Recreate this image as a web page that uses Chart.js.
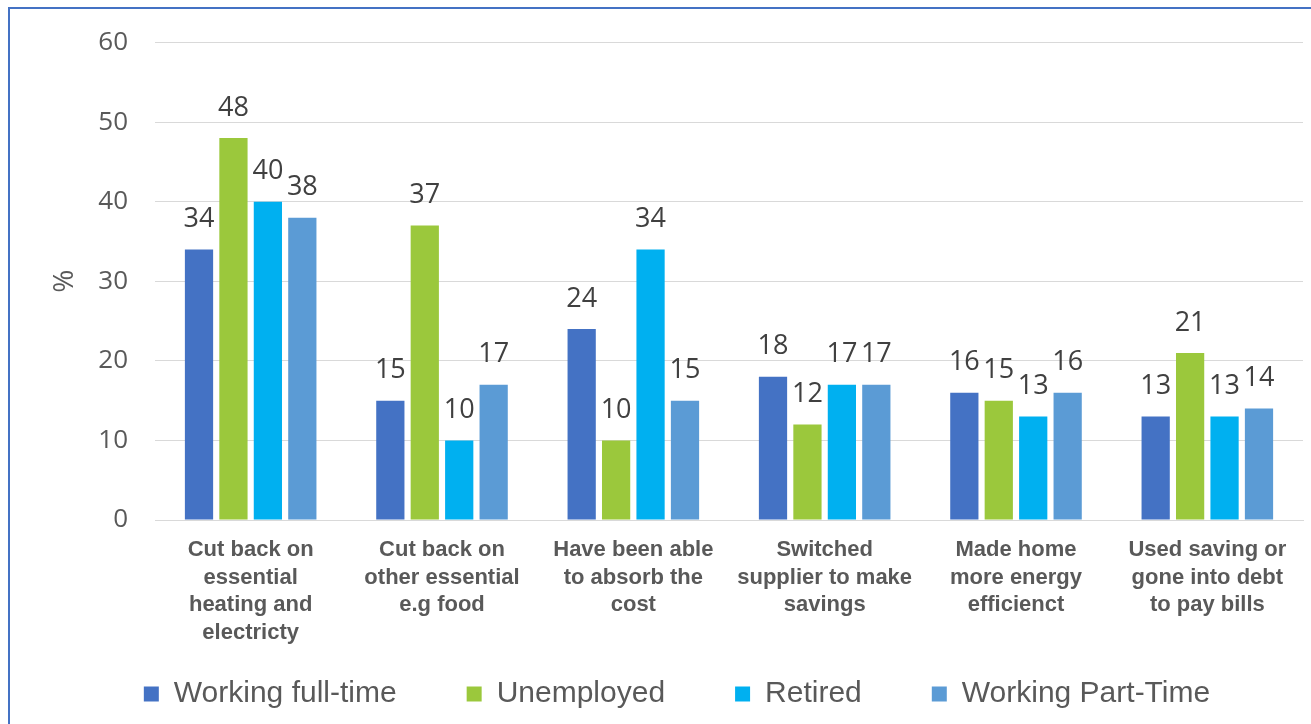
<!DOCTYPE html>
<html>
<head>
<meta charset="utf-8">
<script src="https://cdn.jsdelivr.net/npm/chart.js@4.4.1/dist/chart.umd.min.js"></script>
<style>
  body { margin: 0; background: #fff; }
  #wrap { position: relative; width: 1311px; height: 724px; overflow: hidden; }
  #frame { position: absolute; left: 8px; top: 7px; width: 1400px; height: 800px;
           border-left: 2px solid #4472C4; border-top: 2px solid #4472C4; pointer-events: none; }
</style>
</head>
<body>
<div id="wrap">
  <canvas id="myChart" width="1311" height="724"></canvas>
  <div id="frame"></div>
</div>
<script>
const ctx = document.getElementById("myChart");

// categories (multi-line labels as shown under the axis)
const categories = [
  ["Cut back on", "essential", "heating and", "electricty"],
  ["Cut back on", "other essential", "e.g food"],
  ["Have been able", "to absorb the", "cost"],
  ["Switched", "supplier to make", "savings"],
  ["Made home", "more energy", "efficienct"],
  ["Used saving or", "gone into debt", "to pay bills"],
];

const seriesNames = ["Working full-time", "Unemployed", "Retired", "Working Part-Time"];
const fullTime = [34, 15, 24, 18, 16, 13];
const unemployed = [48, 37, 10, 12, 15, 21];
const retired = [40, 10, 34, 17, 13, 13];
const partTime = [38, 17, 15, 17, 16, 14];
const colors = ["#4472C4", "#9BC83C", "#00B0F0", "#5B9BD5"];

const yTicks = [0, 10, 20, 30, 40, 50, 60];

// draws the value above every bar
const valueLabels = {
  id: "valueLabels",
  afterDatasetsDraw(chart) {
    const c = chart.ctx;
    c.save();
    c.font = "27px 'Open Sans'";
    c.fillStyle = "#404040";
    c.textAlign = "center";
    c.textBaseline = "middle";
    chart.data.datasets.forEach((ds, i) => {
      chart.getDatasetMeta(i).data.forEach((bar, j) => {
        c.fillText(ds.data[j], bar.x, bar.y - 30);
      });
    });
    c.restore();
  },
};

// legend padding is wide (spacing between items), so pull the box up a bit
const legendSpot = {
  id: "legendSpot",
  afterLayout(chart) {
    const lg = chart.legend;
    lg.top = 609;
    lg.bottom = 724;
    lg.height = 115;
  },
};

const allSeries = [fullTime, unemployed, retired, partTime];

new Chart(ctx, {
  type: "bar",
  data: {
    labels: categories,
    datasets: allSeries.map((d, i) => ({
      label: seriesNames[i],
      data: d,
      backgroundColor: colors[i],
      borderWidth: 0,
      barPercentage: 0.82,
      categoryPercentage: 0.72,
    })),
  },
  options: {
    responsive: false,
    animation: false,
    layout: { padding: { left: 51, right: 8, top: 40, bottom: 0 } },
    plugins: {
      tooltip: { enabled: false },
      legend: {
        position: "bottom",
        maxHeight: 64,
        labels: {
          boxWidth: 15,
          boxHeight: 15,
          padding: 70,
          color: "#595959",
          font: { family: "'Liberation Sans', Arial", size: 30 },
        },
      },
    },
    scales: {
      x: {
        grid: { display: false },
        border: { display: true, color: "#D9D9D9", width: 1 },
        afterFit(scale) { scale.height = 140; },
        ticks: {
          autoSkip: false,
          maxRotation: 0,
          padding: 8,
          color: "#595959",
          font: { family: "'Liberation Sans', Arial", size: 22, weight: "bold", lineHeight: 1.26 },
        },
      },
      y: {
        min: 0,
        max: 60,
        afterFit(scale) { scale.width = 104; },
        afterBuildTicks(scale) { scale.ticks = yTicks.map((v) => ({ value: v })); },
        grid: { color: "#D9D9D9", lineWidth: 1, drawTicks: false },
        border: { display: false },
        ticks: {
          padding: 27,
          color: "#595959",
          font: { family: "'Open Sans'", size: 26 },
        },
        title: {
          display: true,
          text: "%",
          color: "#595959",
          padding: { top: 0, bottom: 0 },
          font: { family: "'Open Sans'", size: 28, lineHeight: 1 },
        },
      },
    },
  },
  plugins: [valueLabels, legendSpot],
});
</script>
</body>
</html>
